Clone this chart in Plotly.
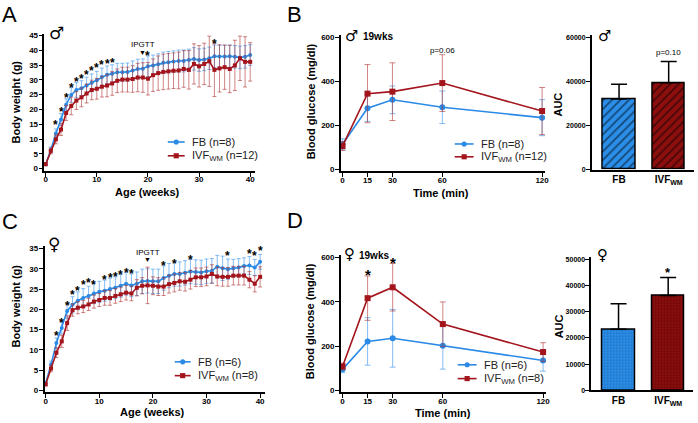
import plotly.graph_objects as go

W, H = 698, 423

# ---- data ----
weeks = list(range(41))

a_fb = [1.5, 6.3, 11.9, 16.6, 21.6, 24.9, 26.6, 27.2, 28.1, 29.0, 29.9,
        31.0, 31.7, 32.1, 32.6, 32.6, 32.7, 33.2, 33.7, 33.8, 34.6,
        34.9, 35.3, 35.8, 36.0, 36.2, 36.4, 36.4, 36.7, 37.1, 36.7,
        36.9, 37.3, 38.0, 37.9, 37.9, 38.0, 37.8, 37.6, 37.8, 38.4]
a_fb_sd = [0.5, 1.0, 1.5, 2.0, 2.0, 2.5, 2.5, 2.5, 2.8, 3.0, 3.0,
           3.0, 3.0, 3.0, 3.0, 3.0, 3.0, 3.2, 3.3, 3.3, 3.5,
           3.5, 3.5, 3.6, 3.6, 3.6, 3.7, 3.7, 3.7, 3.8, 3.8,
           3.8, 3.8, 3.8, 3.8, 3.8, 3.8, 3.8, 3.8, 3.8, 3.5]
a_ivf = [1.5, 6.0, 9.9, 13.2, 18.8, 21.2, 23.0, 24.1, 25.4, 26.6, 27.0,
         27.7, 28.1, 28.8, 29.7, 30.1, 30.1, 30.3, 30.8, 30.8, 30.4,
         31.6, 32.3, 32.7, 32.9, 33.1, 33.2, 33.7, 33.4, 35.4, 34.6,
         35.4, 36.3, 33.4, 33.9, 34.3, 33.7, 34.9, 37.3, 36.1, 36.1]
a_ivf_sd = [0.5, 1.0, 1.5, 2.0, 2.5, 3.0, 3.0, 3.2, 3.2, 3.3, 3.5,
            3.5, 3.8, 4.0, 4.0, 4.2, 4.2, 4.5, 4.8, 5.0, 5.5,
            5.5, 5.8, 6.0, 6.0, 6.0, 6.2, 6.2, 6.5, 6.8, 7.0,
            7.0, 8.5, 9.0, 8.0, 7.5, 8.0, 8.5, 7.5, 8.5, 6.5]
a_star_wk = [2, 3, 4, 5, 6, 7, 8, 9, 10, 11, 12, 13, 20, 33]
a_star_y = [15.6, 20.0, 25.0, 28.3, 30.2, 31.4, 32.6, 33.9, 35.0, 35.9, 36.3, 36.8, 39.1, 43.2]

c_fb = [1.8, 6.4, 11.7, 15.4, 19.6, 21.1, 22.1, 22.8, 23.3, 23.9, 24.3,
        24.6, 25.0, 25.3, 25.8, 26.3, 25.9, 26.3, 26.9, 27.0, 26.9,
        26.9, 27.7, 28.3, 28.7, 28.7, 29.0, 29.3, 29.2, 29.1, 29.4,
        29.5, 30.5, 30.1, 29.9, 30.1, 30.3, 30.7, 30.8, 30.3, 31.7]
c_fb_sd = [0.4, 0.8, 1.2, 1.5, 1.8, 2.0, 2.2, 2.3, 2.4, 2.5, 2.6,
           2.6, 2.7, 2.7, 2.8, 2.8, 2.8, 2.9, 3.0, 3.0, 3.0,
           3.0, 3.0, 3.0, 3.0, 3.0, 3.0, 3.0, 3.0, 3.0, 3.0,
           3.0, 2.8, 3.0, 2.5, 2.2, 2.2, 2.0, 2.2, 2.0, 1.8]
c_ivf = [1.5, 5.4, 9.3, 12.1, 16.6, 19.8, 20.4, 20.7, 21.2, 21.9, 22.3,
         22.8, 22.8, 23.3, 23.7, 24.1, 23.9, 25.3, 25.8, 25.9, 25.8,
         25.6, 25.6, 26.2, 26.5, 26.9, 26.8, 27.3, 27.9, 27.9, 28.1,
         28.7, 28.1, 28.0, 28.0, 28.3, 28.3, 28.3, 27.3, 26.3, 28.0]
c_ivf_sd = [0.4, 0.8, 1.2, 1.5, 1.8, 1.5, 1.5, 1.5, 1.5, 1.6, 1.6,
            1.8, 1.8, 1.8, 1.8, 1.8, 1.8, 2.0, 2.0, 4.5, 2.2,
            2.2, 2.2, 2.2, 2.2, 2.2, 2.3, 2.3, 2.3, 2.3, 2.3,
            2.3, 2.3, 2.3, 2.3, 2.3, 2.3, 2.3, 2.0, 2.0, 2.5]
c_star_wk = [2, 3, 4, 5, 6, 7, 8, 9, 11, 12, 13, 14, 15, 16, 22, 24, 27, 34, 38, 39, 40]
c_star_y = [14.1, 17.3, 21.6, 24.2, 25.3, 26.8, 27.2, 26.7, 28.0, 28.4, 28.8,
            29.1, 29.7, 29.5, 31.4, 31.9, 32.9, 33.8, 34.3, 34.0, 35.2]

gtt_min = [0, 15, 30, 60, 120]
b_fb = [115, 279, 317, 283, 236]
b_fb_sd = [25, 60, 63, 74, 82]
b_ivf = [107, 345, 354, 393, 266]
b_ivf_sd = [20, 132, 131, 129, 107]

d_fb = [95, 221, 235, 201, 135]
d_fb_sd = [15, 107, 130, 105, 48]
d_ivf = [108, 416, 465, 299, 173]
d_ivf_sd = [15, 100, 107, 100, 42]
d_star_min = [15, 30]
d_star_y = [539, 594]

groups = ["<b>FB</b>", "<b>IVF<sub>WM</sub></b>"]
b_auc = [32100, 39400]
b_auc_sd = [6700, 9700]
d_auc = [23300, 36200]
d_auc_sd = [9800, 6900]

BLUE = "#2a8ae6"
RED = "#a3141c"
BLUE_EB = "rgba(90,165,240,0.75)"
RED_EB = "rgba(175,50,50,0.6)"
BAR_FILL = ["#2b8fea", "#8e0e0e"]
DOT_FG = ["#14508e", "#3a0000"]
FONT = "Liberation Sans, Arial, sans-serif"


def dom(pa, pb, va, vb, r0, r1, total, vertical=False):
    s = (pb - pa) / (vb - va)
    lo = pa + (r0 - va) * s
    hi = pa + (r1 - va) * s
    if vertical:
        return [1 - lo / total, 1 - hi / total]
    return [lo / total, hi / total]


def px(x, y):
    return x / W, 1 - y / H


fig = go.Figure()


def curve(x, y, sd, color, ecolor, symbol, size, n, cap):
    fig.add_trace(go.Scatter(
        x=x, y=y, mode="lines+markers",
        line=dict(color=color, width=1.6),
        marker=dict(symbol=symbol, size=size, color=color),
        error_y=dict(type="data", array=sd, color=ecolor, thickness=1, width=cap),
        xaxis="x" + n, yaxis="y" + n, showlegend=False, cliponaxis=False))


def bars(vals, sd, n, dotted):
    for i, (v, s) in enumerate(zip(vals, sd)):
        if dotted:
            pat = dict(shape=".", fgcolor=DOT_FG[i], bgcolor=BAR_FILL[i], size=3, solidity=0.35)
        else:
            pat = dict(shape="/", fgcolor="#000000", bgcolor=BAR_FILL[i], size=6, solidity=0.3)
        fig.add_trace(go.Bar(
            x=[i], y=[v], width=0.66,
            marker=dict(color=BAR_FILL[i], line=dict(color="black", width=1.5), pattern=pat),
            error_y=dict(type="data", array=[s], arrayminus=[0], symmetric=False,
                         color="black", thickness=1.5, width=8),
            xaxis="x" + n, yaxis="y" + n, showlegend=False))


curve(weeks, a_fb, a_fb_sd, BLUE, BLUE_EB, "circle", 4, "", 2)
curve(weeks, a_ivf, a_ivf_sd, RED, RED_EB, "square", 4, "", 2)
curve(gtt_min, b_fb, b_fb_sd, BLUE, BLUE_EB, "circle", 6, "2", 3)
curve(gtt_min, b_ivf, b_ivf_sd, RED, RED_EB, "square", 6, "2", 3)
bars(b_auc, b_auc_sd, "3", False)
curve(weeks, c_fb, c_fb_sd, BLUE, BLUE_EB, "circle", 4, "4", 2)
curve(weeks, c_ivf, c_ivf_sd, RED, RED_EB, "square", 4, "4", 2)
curve(gtt_min, d_fb, d_fb_sd, BLUE, BLUE_EB, "circle", 6, "5", 3)
curve(gtt_min, d_ivf, d_ivf_sd, RED, RED_EB, "square", 6, "5", 3)
bars(d_auc, d_auc_sd, "6", True)

axis_common = dict(showline=True, linecolor="black", linewidth=1.5, ticks="outside",
                   ticklen=4, tickwidth=1.3, tickcolor="black", showgrid=False, zeroline=False,
                   ticklabeloverflow="allow",
                   tickfont=dict(family=FONT, size=8, color="black", weight="bold"))

# (x pixel a, x pixel b, value a, value b, range) per axis
xspec = {
    "": (45, 251, 0, 40, -0.25, 41, [0, 10, 20, 30, 40]),
    "2": (344, 545, 0, 120, -1, 122, [0, 15, 30, 60, 120]),
    "3": (622.5, 672.5, 0, 1, -0.55, 1.5, None),
    "4": (45, 261, 0, 40, -0.2, 41, [0, 10, 20, 30, 40]),
    "5": (344, 546, 0, 120, -1, 122, [0, 15, 30, 60, 120]),
    "6": (622, 672, 0, 1, -0.55, 1.5, None),
}
yspec = {
    "": (168, 33, 0, 45, -0.8, 45.5, 5),
    "2": (169, 35, 0, 600, -8, 610, 200),
    "3": (169, 35, 0, 60000, 0, 61000, 20000),
    "4": (393, 249, 0, 35, -0.5, 35.5, 5),
    "5": (393, 258, 0, 600, -8, 610, 200),
    "6": (393, 260, 0, 50000, 0, 51000, 10000),
}

lay = {}
for n in xspec:
    pa, pb, va, vb, r0, r1, tv = xspec[n]
    xa = dict(axis_common, domain=dom(pa, pb, va, vb, r0, r1, W), range=[r0, r1],
              anchor="y" + n, ticklabelstandoff=-4)
    if tv is None:
        xa.update(tickvals=[0, 1], ticktext=groups, ticks="", ticklabelstandoff=0,
                  tickfont=dict(family=FONT, size=10, color="black"))
    else:
        xa.update(tickvals=tv)
    lay["xaxis" + n] = xa
    pa, pb, va, vb, r0, r1, dt = yspec[n]
    ya = dict(axis_common, domain=dom(pa, pb, va, vb, r0, r1, H, True),
              range=[r0, r1], anchor="x" + n, tickmode="linear", dtick=dt, tick0=0,
              tickformat="d", ticklabelstandoff=-1)
    if dt >= 10000:
        ya["tickfont"] = dict(family=FONT, size=7, color="black", weight="bold")
    lay["yaxis" + n] = ya

ann = []


def label(x, y, text, size=11, bold=True, angle=0, family=FONT, xanchor="center"):
    xp, yp = px(x, y)
    ann.append(dict(x=xp, y=yp, xref="paper", yref="paper", text=text, showarrow=False,
                    textangle=angle, xanchor=xanchor, yanchor="middle",
                    font=dict(family=family, size=size, color="black",
                              weight="bold" if bold else "normal")))


def data_text(x, y, n, text, size=12, bold=True, yshift=0):
    ann.append(dict(x=x, y=y, xref="x" + n, yref="y" + n, text=text, showarrow=False,
                    yanchor="middle", yshift=yshift,
                    font=dict(family=FONT, size=size, color="black",
                              weight="bold" if bold else "normal")))


# panel letters
for t, x, y in [("A", 9, 12), ("B", 296, 12), ("C", 9, 222), ("D", 296, 221)]:
    label(x, y, t, size=22, bold=False)

# axis titles
label(15, 100, "Body weight (g)", angle=-90)
label(148, 192, "Age (weeks)")
label(312, 100, "Blood glucose (mg/dl)", angle=-90)
label(443, 193, "Time (min)")
label(561, 103, "AUC", angle=-90)
label(15, 307, "Body weight (g)", angle=-90)
label(153, 415, "Age (weeks)")
label(312, 323, "Blood glucose (mg/dl)", angle=-90)
label(445, 416, "Time (min)")
label(562, 328, "AUC", angle=-90)

# sex symbols and labels
SYM = "DejaVu Sans, sans-serif"
label(56, 30, "\u2642", size=17, family=SYM)
label(353, 33, "\u2642", size=15, family=SYM)
label(363, 34, "19wks", size=10, xanchor="left")
label(608, 33, "\u2642", size=15, family=SYM)
label(53, 244, "\u2640", size=17, family=SYM)
label(351, 255, "\u2640", size=15, family=SYM)
label(359, 256, "19wks", size=10, xanchor="left")
label(606, 256, "\u2640", size=15, family=SYM)

# significance marks
for wk, yv in zip(a_star_wk, a_star_y):
    data_text(wk, yv, "", "*", size=12, yshift=-3)
for wk, yv in zip(c_star_wk, c_star_y):
    data_text(wk, yv, "4", "*", size=12, yshift=-3)
for t, yv in zip(d_star_min, d_star_y):
    data_text(t, yv, "5", "*", size=15, yshift=-4)
data_text(19, 41.8, "", "IPGTT", size=8, bold=False)
data_text(19, 39.1, "", "\u25bc", size=7, bold=False)
data_text(19, 34.1, "4", "IPGTT", size=8, bold=False)
data_text(19, 32.2, "4", "\u25bc", size=7, bold=False)
data_text(60, 543, "2", "p=0.06", size=8, bold=False)
data_text(1, 53300, "3", "p=0.10", size=8, bold=False)
data_text(1, 46200, "6", "*", size=13, yshift=-3)

# legends drawn by hand (compact Prism style)
shapes = []


def legend_row(x0, x1, y, color, symbol, text):
    a, b = px(x0, y)
    c, _ = px(x1, y)
    shapes.append(dict(type="line", xref="paper", yref="paper", x0=a, x1=c, y0=b, y1=b,
                       line=dict(color=color, width=1.6)))
    mx = (x0 + x1) / 2
    r = 2.6
    p0 = px(mx - r, y + r)
    p1 = px(mx + r, y - r)
    shapes.append(dict(type="circle" if symbol == "circle" else "rect", xref="paper", yref="paper",
                       x0=p0[0], x1=p1[0], y0=p0[1], y1=p1[1],
                       fillcolor=color, line=dict(color=color, width=0)))
    xp, yp = px(x1 + 5, y)
    ann.append(dict(x=xp, y=yp, xref="paper", yref="paper", text=text, showarrow=False,
                    xanchor="left", yanchor="middle",
                    font=dict(family=FONT, size=11, color="#222")))


legend_row(168, 185, 141, BLUE, "circle", "FB (n=8)")
legend_row(168, 185, 155, RED, "square", "IVF<sub>WM</sub> (n=12)")
legend_row(457, 476, 143, BLUE, "circle", "FB (n=8)")
legend_row(457, 476, 156, RED, "square", "IVF<sub>WM</sub> (n=12)")
legend_row(175, 191, 364, BLUE, "circle", "FB (n=6)")
legend_row(175, 191, 378, RED, "square", "IVF<sub>WM</sub> (n=8)")
legend_row(460, 479, 367, BLUE, "circle", "FB (n=6)")
legend_row(460, 479, 381, RED, "square", "IVF<sub>WM</sub> (n=8)")

fig.update_layout(width=W, height=H, margin=dict(l=0, r=0, t=0, b=0),
                  paper_bgcolor="white", plot_bgcolor="white",
                  font=dict(family=FONT, color="black"),
                  annotations=ann, shapes=shapes, bargap=0, barmode="overlay", **lay)

# the page's default 8px body margin would push the figure off the window
fig.write_html("out.html", config={"displayModeBar": False},
               post_script="document.body.style.margin = '0px';")
